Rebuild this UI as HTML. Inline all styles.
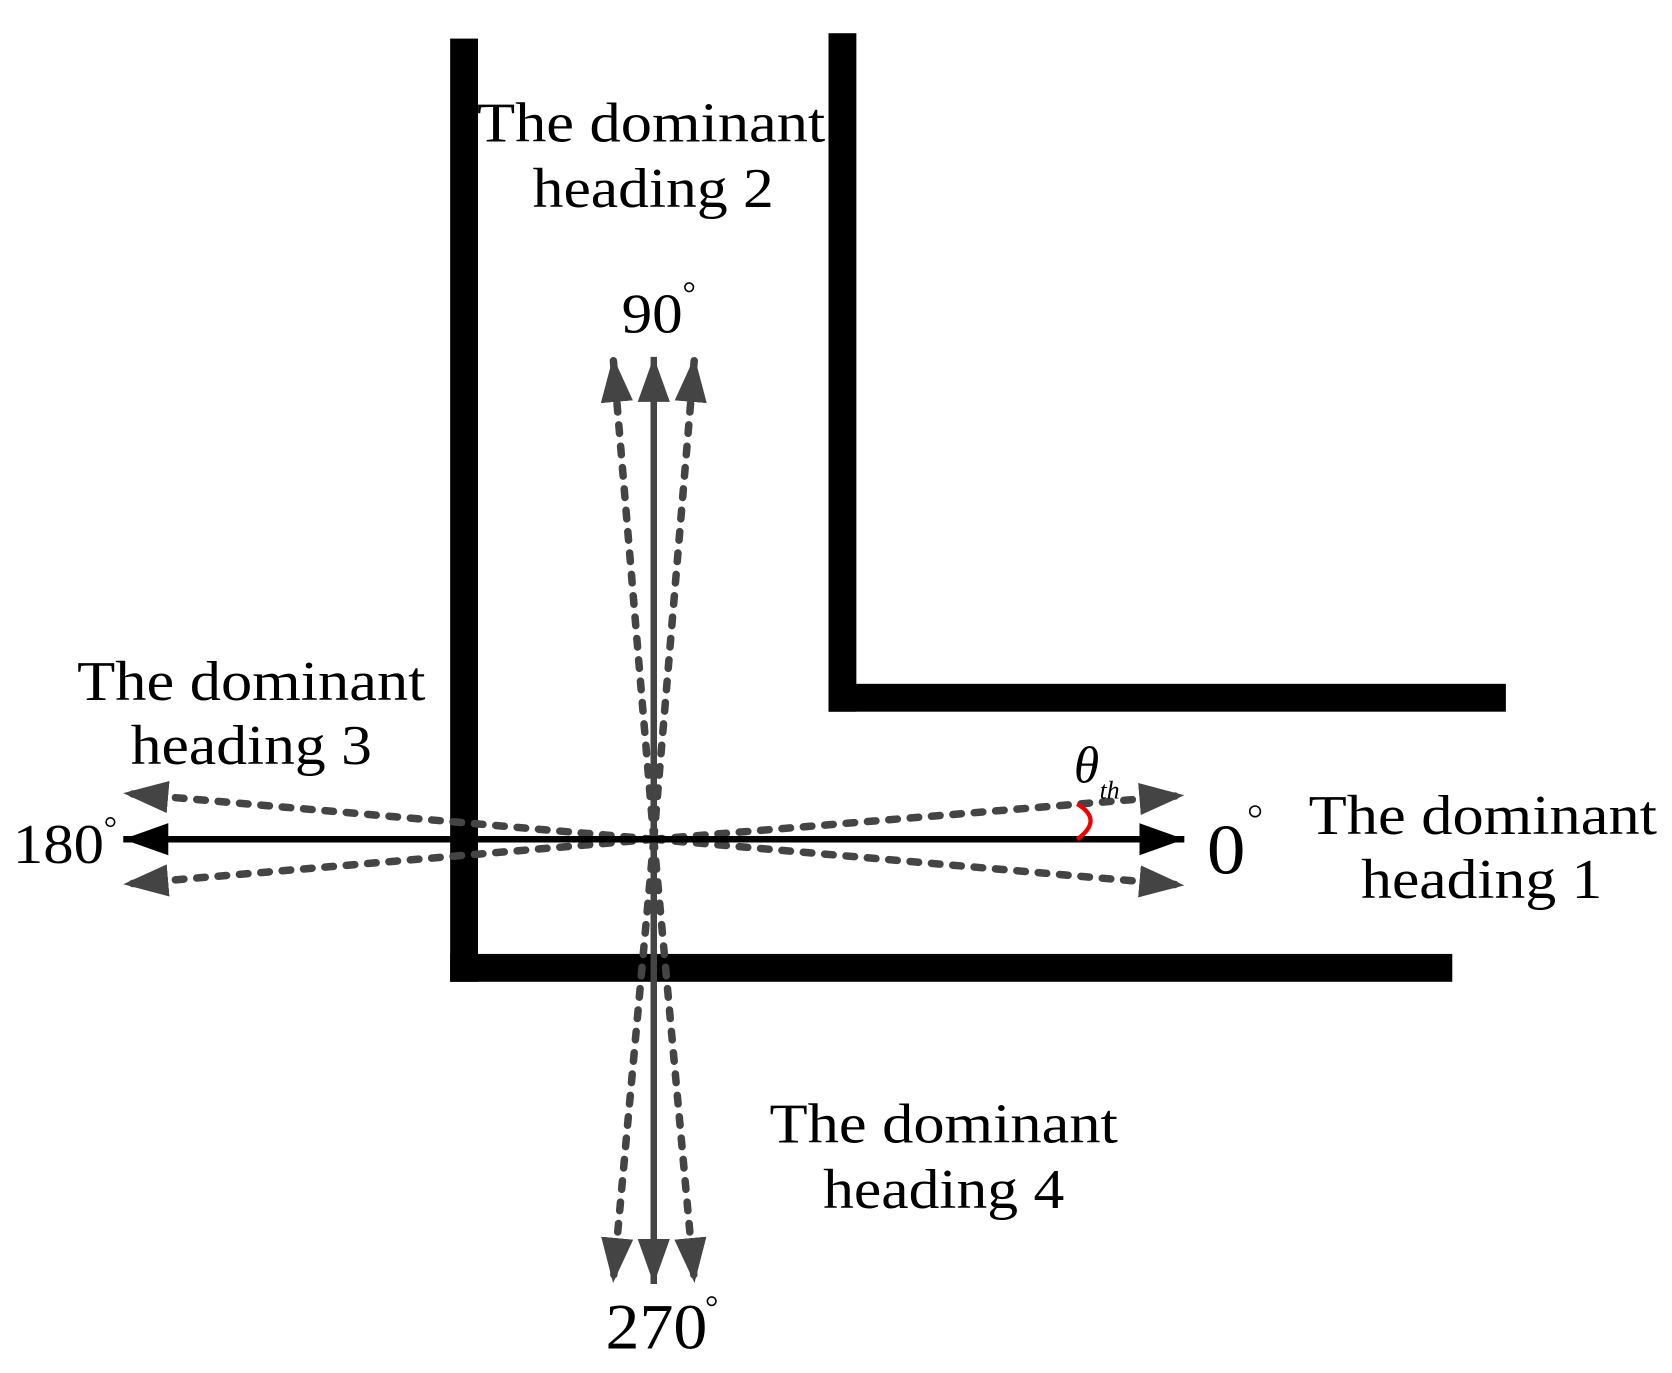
<!DOCTYPE html>
<html><head><meta charset="utf-8"><style>
html,body{margin:0;padding:0;background:#fff;}
svg{display:block;}
text{font-family:"Liberation Serif",serif;fill:#000;}
</style></head><body>
<svg width="1672" height="1373" viewBox="0 0 1560 1281" preserveAspectRatio="none" xmlns="http://www.w3.org/2000/svg">
<defs>
<marker id="ag" markerWidth="42" markerHeight="30" refX="42" refY="15" orient="auto" markerUnits="userSpaceOnUse"><path d="M0,0 L42,15 L0,30 Z" fill="#444"/></marker>
<marker id="ab" markerWidth="42" markerHeight="30" refX="42" refY="15" orient="auto" markerUnits="userSpaceOnUse"><path d="M0,0 L42,15 L0,30 Z" fill="#000"/></marker>
</defs>
<rect x="420" y="36" width="26" height="880" fill="#000"/>
<rect x="420" y="890" width="935" height="26" fill="#000"/>
<rect x="773" y="31" width="26" height="633" fill="#000"/>
<rect x="773" y="638" width="632" height="26" fill="#000"/>
<g stroke="#444" stroke-width="7" stroke-dasharray="8 12" stroke-linecap="round" fill="none">
<line x1="610" y1="783" x2="1105" y2="742" marker-end="url(#ag)"/>
<line x1="610" y1="783" x2="1105" y2="826" marker-end="url(#ag)"/>
<line x1="610" y1="783" x2="115" y2="740" marker-end="url(#ag)"/>
<line x1="610" y1="783" x2="115" y2="825" marker-end="url(#ag)"/>
<line x1="610" y1="783" x2="572" y2="333" marker-end="url(#ag)"/>
<line x1="610" y1="783" x2="648" y2="333" marker-end="url(#ag)"/>
<line x1="610" y1="783" x2="572" y2="1197" marker-end="url(#ag)"/>
<line x1="610" y1="783" x2="648" y2="1197" marker-end="url(#ag)"/>
</g>
<line x1="610" y1="1198" x2="610" y2="333" stroke="#444" stroke-width="6" marker-end="url(#ag)"/>
<line x1="610" y1="340" x2="610" y2="1198" stroke="#444" stroke-width="6" marker-end="url(#ag)"/>
<line x1="600" y1="783" x2="1105" y2="783" stroke="#000" stroke-width="6" marker-end="url(#ab)"/>
<line x1="620" y1="783" x2="115" y2="783" stroke="#000" stroke-width="6" marker-end="url(#ab)"/>
<path d="M1005,750 Q1030,765 1005,783" stroke="#e00" stroke-width="4" fill="none"/>
<g font-size="52" lengthAdjust="spacingAndGlyphs">
<text x="445" y="132" textLength="325" lengthAdjust="spacingAndGlyphs">The dominant</text>
<text x="497" y="193" textLength="225" lengthAdjust="spacingAndGlyphs">heading 2</text>
<text x="72" y="653" textLength="325" lengthAdjust="spacingAndGlyphs">The dominant</text>
<text x="122" y="713" textLength="225" lengthAdjust="spacingAndGlyphs">heading 3</text>
<text x="1221" y="778" textLength="325" lengthAdjust="spacingAndGlyphs">The dominant</text>
<text x="1270" y="838" textLength="225" lengthAdjust="spacingAndGlyphs">heading 1</text>
<text x="718" y="1066" textLength="325" lengthAdjust="spacingAndGlyphs">The dominant</text>
<text x="768" y="1127" textLength="225" lengthAdjust="spacingAndGlyphs">heading 4</text>
<text x="580" y="310" textLength="57" lengthAdjust="spacingAndGlyphs">90</text>
<text x="12" y="805" textLength="85" lengthAdjust="spacingAndGlyphs">180</text>
</g>
<text x="565" y="1258" font-size="60" textLength="95" lengthAdjust="spacingAndGlyphs">270</text>
<text x="1126" y="815" font-size="66" textLength="36" lengthAdjust="spacingAndGlyphs">0</text>
<circle cx="643" cy="268" r="4" fill="none" stroke="#000" stroke-width="1.5"/>
<circle cx="664" cy="1214" r="4" fill="none" stroke="#000" stroke-width="1.5"/>
<circle cx="103" cy="767" r="4" fill="none" stroke="#000" stroke-width="1.5"/>
<circle cx="1171" cy="757" r="5" fill="none" stroke="#000" stroke-width="1.5"/>
<text x="1002" y="730" font-size="48" font-style="italic">θ</text>
<text x="1026" y="745" font-size="24" font-style="italic">th</text>
</svg>
</body></html>
